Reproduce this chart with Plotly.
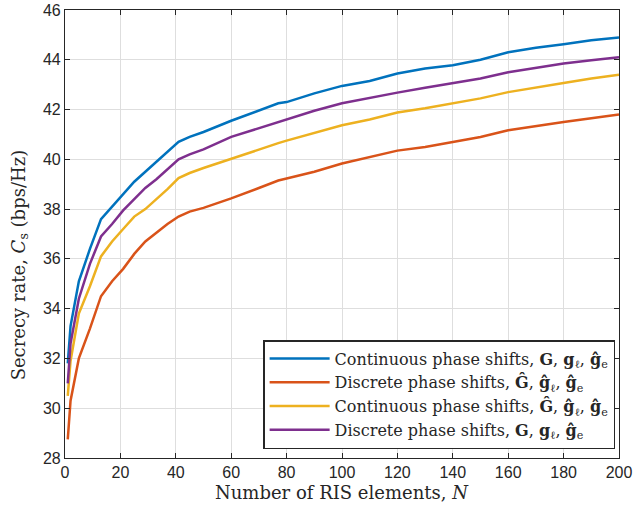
import plotly.graph_objects as go

N = [1, 2, 5, 9, 13, 17, 21, 25, 29, 33, 37, 41, 45, 50, 60, 70, 77, 80, 90, 100,
     110, 120, 130, 140, 150, 160, 170, 180, 190, 200]

cont_perfect = [31.8, 33.3, 35.1, 36.4, 37.6, 38.1, 38.6, 39.1, 39.5, 39.9, 40.3, 40.7, 40.9, 41.1,
                41.55, 41.95, 42.25, 42.3, 42.65, 42.95, 43.15, 43.45, 43.65, 43.78, 44.0, 44.3,
                44.48, 44.62, 44.78, 44.9]
disc_imperfect = [28.75, 30.3, 32.0, 33.2, 34.5, 35.1, 35.6, 36.2, 36.7, 37.05, 37.4, 37.7, 37.9, 38.05,
                  38.43, 38.85, 39.15, 39.23, 39.5, 39.83, 40.1, 40.35, 40.5, 40.7, 40.9, 41.17,
                  41.35, 41.5, 41.65, 41.8]
cont_imperfect = [30.5, 31.9, 33.8, 34.9, 36.1, 36.7, 37.2, 37.7, 38.0, 38.4, 38.8, 39.25, 39.45, 39.65,
                  40.03, 40.4, 40.65, 40.75, 41.05, 41.37, 41.6, 41.88, 42.05, 42.24, 42.45, 42.7,
                  42.9, 43.07, 43.25, 43.4]
disc_perfect = [31.0, 32.6, 34.4, 35.8, 36.9, 37.4, 37.95, 38.4, 38.85, 39.2, 39.6, 40.0, 40.2, 40.4,
                40.9, 41.25, 41.5, 41.6, 41.95, 42.25, 42.45, 42.68, 42.88, 43.05, 43.25, 43.5,
                43.68, 43.85, 43.98, 44.1]

names = [
    "Continuous phase shifts, <b>G</b>, <b>g</b><sub>ℓ</sub>, <b>ĝ</b><sub>e</sub>",
    "Discrete phase shifts, <b>Ĝ</b>, <b>ĝ</b><sub>ℓ</sub>, <b>ĝ</b><sub>e</sub>",
    "Continuous phase shifts, <b>Ĝ</b>, <b>ĝ</b><sub>ℓ</sub>, <b>ĝ</b><sub>e</sub>",
    "Discrete phase shifts, <b>G</b>, <b>g</b><sub>ℓ</sub>, <b>ĝ</b><sub>e</sub>",
]
series = [cont_perfect, disc_imperfect, cont_imperfect, disc_perfect]
colors = ["#0072BD", "#D95319", "#EDB120", "#7E2F8E"]

x_ticks = list(range(0, 201, 20))
y_ticks = list(range(28, 47, 2))

SERIF = "DejaVu Serif, Liberation Serif, serif"

fig = go.Figure()
for name, ys, c in zip(names, series, colors):
    fig.add_trace(go.Scatter(x=N, y=ys, mode="lines", name=name,
                             line=dict(color=c, width=2.5)))

axis_common = dict(
    showline=True, linecolor="#262626", linewidth=1.2, mirror="ticks",
    ticks="inside", ticklen=5, tickcolor="#262626",
    showgrid=True, gridcolor="#DEDEDE", gridwidth=1, zeroline=False,
    automargin=False,
    tickfont=dict(family="Liberation Sans, Arial, sans-serif", size=16, color="#262626"),
)

fig.update_xaxes(range=[0, 200], tickvals=x_ticks, **axis_common)
fig.update_yaxes(range=[28, 46], tickvals=y_ticks, **axis_common)

fig.add_annotation(text="Number of RIS elements, <i>N</i>", xref="paper", yref="paper",
                   x=0.5, y=0, yshift=-34, xanchor="center", yanchor="middle", showarrow=False,
                   font=dict(family=SERIF, size=18, color="#262626"))
fig.add_annotation(text="Secrecy rate, <i>C</i><sub>s</sub> (bps/Hz)", xref="paper", yref="paper",
                   x=0, xshift=-45, y=0.43, xanchor="center", yanchor="middle", showarrow=False,
                   textangle=-90, font=dict(family=SERIF, size=18, color="#262626"))

fig.update_layout(
    width=634, height=515,
    margin=dict(l=65, r=15, t=10, b=57),
    plot_bgcolor="white", paper_bgcolor="white",
    legend=dict(x=0.993, xanchor="right", y=0.02, yanchor="bottom",
                bgcolor="white", bordercolor="#262626", borderwidth=1.5,
                font=dict(family=SERIF, size=16, color="#262626"),
                tracegroupgap=0, itemwidth=60),
    showlegend=True,
)

fig.write_html("out.html", config={"displayModeBar": False},
               post_script="document.body.style.margin='0px';")
